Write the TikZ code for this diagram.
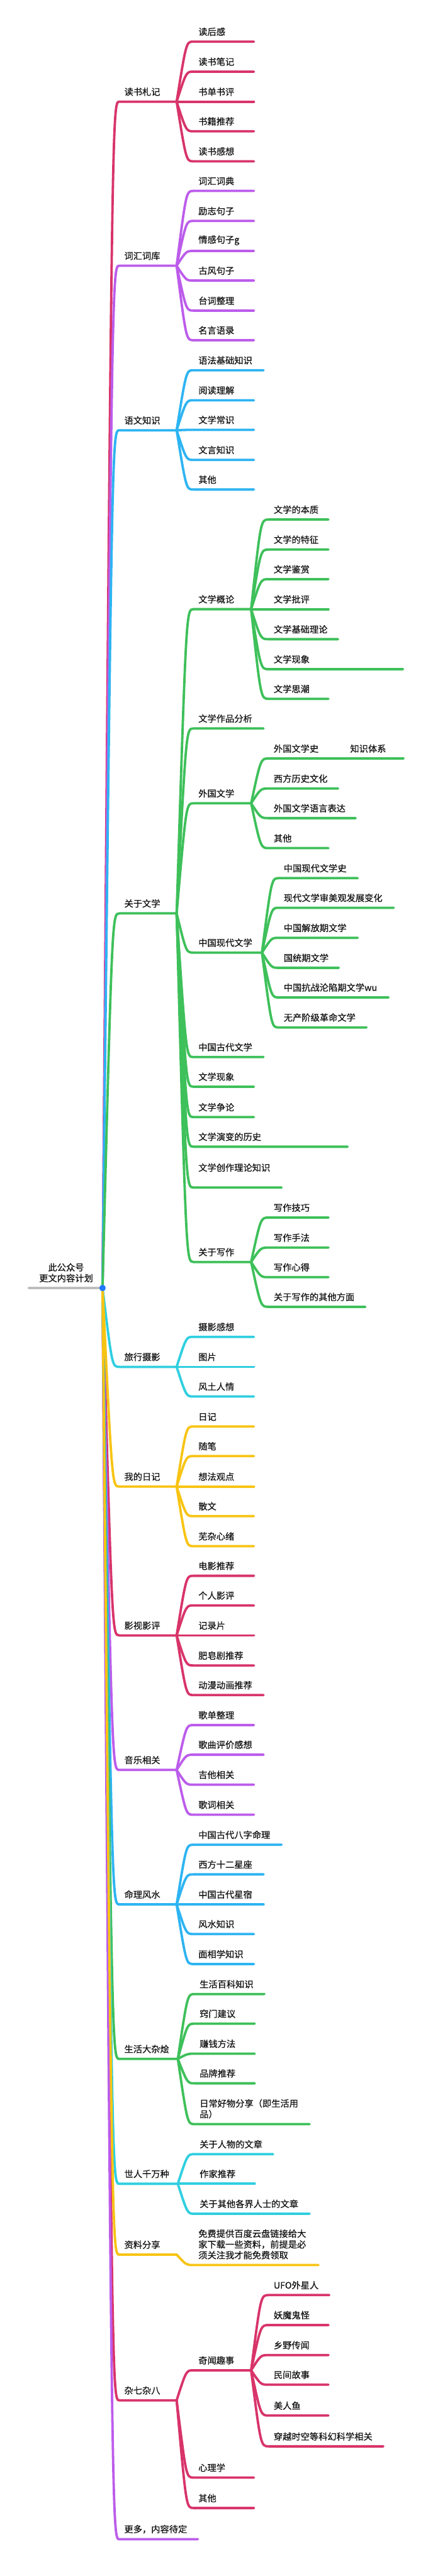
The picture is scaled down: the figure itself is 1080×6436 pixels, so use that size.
\documentclass[tikz,border=0pt]{standalone}
\usepackage{fontspec}
\newfontfamily\cjk[FakeBold=0.7]{Noto Sans CJK SC}
\usetikzlibrary{calc}
\definecolor{mmred}{RGB}{216,52,106}
\definecolor{mmpurple}{RGB}{188,92,235}
\definecolor{mmblue}{RGB}{45,180,242}
\definecolor{mmgreen}{RGB}{62,192,90}
\definecolor{mmcyan}{RGB}{47,207,224}
\definecolor{mmyellow}{RGB}{248,196,19}
\definecolor{mmgray}{RGB}{190,190,190}
\definecolor{mmdot}{RGB}{30,120,250}
\newcommand\kids[4]{%
  \foreach \n/\y/\e/\txt in {#4}{%
    \coordinate (\n) at (#2,\y);
    \draw[br,color=#3] (#1) .. controls ($(#1|-\n)+(24,0)$) .. (\n) -- (\e,\y) coordinate (\n-e);
    \node[lbl] (\n-t) at ($(\n)+(12,-14)$) {\txt};
  }}

\begin{document}
\begin{tikzpicture}[x=0.02cm,y=-0.02cm,font=\cjk\fontsize{12.75}{15.3}\selectfont,
  br/.style={line width=3.4pt,line cap=round},
  lbl/.style={anchor=south west,inner sep=0pt,align=left,text=black!92}]
\fill[white] (0,0) rectangle (1080,6436);
\useasboundingbox (0,0) rectangle (1080,6436);

\coordinate (c0) at (256,3218);
\coordinate (tail) at (72,3218);
\draw[br,mmgray] (tail) -- (c0);
\node[anchor=south,align=center,inner sep=0pt,text=black!92] (root) at (165,3204) {此公众号\\更文内容计划};

\kids{c0}{298}{mmred}{b1/254/441/读书札记, b7/4086/441/影视影评, b13/5997/441/杂七杂八}
\kids{c0}{298}{mmpurple}{b2/664/441/词汇词库, b8/4422/441/音乐相关, b14/6344/494/更多，内容待定}
\kids{c0}{298}{mmblue}{b3/1075/441/语文知识, b9/4758/441/命理风水}
\kids{c0}{298}{mmgreen}{b4/2282/441/关于文学, b10/5144/444/生活大杂烩}
\kids{c0}{298}{mmcyan}{b5/3415/441/旅行摄影, b11/5456/444/世人千万种}
\kids{c0}{298}{mmyellow}{b6/3714/441/我的日记, b12/5633/441/资料分享}

\kids{b1-e}{483}{mmred}{b1k1/104/634/读后感, b1k2/179/634/读书笔记, b1k3/254/634/书单书评, b1k4/328/634/书籍推荐, b1k5/403/634/读书感想}
\kids{b2-e}{483}{mmpurple}{b2k1/477/634/词汇词典, b2k2/552/634/励志句子, b2k3/627/634/情感句子g, b2k4/701/634/古风句子, b2k5/776/634/台词整理, b2k6/850/634/名言语录}
\kids{b3-e}{483}{mmblue}{b3k1/925/658/语法基础知识, b3k2/1000/634/阅读理解, b3k3/1074/634/文学常识, b3k4/1149/634/文言知识, b3k5/1223/634/其他}

\kids{b4-e}{483}{mmgreen}{b4k1/1522/627/文学概论, b4k2/1820/658/文学作品分析, b4k3/2007/627/外国文学, b4k4/2380/654/中国现代文学, b4k5/2641/658/中国古代文学, b4k6/2715/634/文学现象, b4k7/2791/634/文学争论, b4k8/2865/868/文学演变的历史, b4k9/2967/703/{文学创作理论知识\\~}, b4k10/3153/627/关于写作}
\kids{b4k1-e}{671}{mmgreen}{b4k1k1/1298/820/文学的本质, b4k1k2/1373/820/文学的特征, b4k1k3/1447/820/文学鉴赏, b4k1k4/1522/820/文学批评, b4k1k5/1597/844/文学基础理论, b4k1k6/1672/1006/文学现象, b4k1k7/1746/820/文学思潮}
\kids{b4k3-e}{671}{mmgreen}{b4k3k1/1895/820/外国文学史, b4k3k2/1970/844/西方历史文化, b4k3k3/2044/888/外国文学语言表达, b4k3k4/2119/820/其他}
\kids{b4k3k1-e}{862}{mmgreen}{b4k3k1k1/1895/1007/知识体系}
\kids{b4k4-e}{696}{mmgreen}{b4k4k1/2194/893/中国现代文学史, b4k4k2/2268/983/现代文学审美观发展变化, b4k4k3/2343/893/中国解放期文学, b4k4k4/2418/846/国统期文学, b4k4k5/2492/970/中国抗战沦陷期文学wu, b4k4k6/2567/915/无产阶级革命文学}
\kids{b4k10-e}{671}{mmgreen}{b4k10k1/3042/820/写作技巧, b4k10k2/3117/820/写作手法, b4k10k3/3191/820/写作心得, b4k10k4/3265/912/关于写作的其他方面}

\kids{b5-e}{483}{mmcyan}{b5k1/3340/634/摄影感想, b5k2/3415/634/图片, b5k3/3489/634/风土人情}
\kids{b6-e}{483}{mmyellow}{b6k1/3564/634/日记, b6k2/3638/634/随笔, b6k3/3714/634/想法观点, b6k4/3788/634/散文, b6k5/3863/634/芜杂心绪}
\kids{b7-e}{483}{mmred}{b7k1/3937/634/电影推荐, b7k2/4011/634/个人影评, b7k3/4086/634/记录片, b7k4/4161/634/肥皂剧推荐, b7k5/4235/658/动漫动画推荐}
\kids{b8-e}{483}{mmpurple}{b8k1/4310/634/歌单整理, b8k2/4384/658/歌曲评价感想, b8k3/4459/634/吉他相关, b8k4/4534/634/歌词相关}
\kids{b9-e}{483}{mmblue}{b9k1/4609/703/中国古代八字命理, b9k2/4683/658/西方十二星座, b9k3/4758/658/中国古代星宿, b9k4/4832/634/风水知识, b9k5/4907/634/面相学知识}
\kids{b10-e}{486}{mmgreen}{b10k1/4982/660/生活百科知识, b10k2/5056/636/窍门建议, b10k3/5131/636/赚钱方法, b10k4/5205/636/品牌推荐, b10k5/5307/773/{日常好物分享（即生活用\\品）}}
\kids{b11-e}{486}{mmcyan}{b11k1/5382/682/关于人物的文章, b11k2/5456/636/作家推荐, b11k3/5531/773/关于其他各界人士的文章}
\kids{b12-e}{483}{mmyellow}{b12k1/5659/795/{免费提供百度云盘链接给大\\家下载一些资料，前提是必\\须关注我才能免费领取}}
\kids{b13-e}{483}{mmred}{b13k1/5922/627/奇闻趣事, b13k2/6190/634/心理学, b13k3/6266/634/其他}
\kids{b13k1-e}{671}{mmred}{b13k1k1/5734/822/UFO外星人, b13k1k2/5809/820/妖魔鬼怪, b13k1k3/5884/820/乡野传闻, b13k1k4/5958/820/民间故事, b13k1k5/6035/820/美人鱼, b13k1k6/6112/957/穿越时空等科幻科学相关}

\fill[mmdot] (c0) circle[radius=8];
\end{tikzpicture}
\end{document}
